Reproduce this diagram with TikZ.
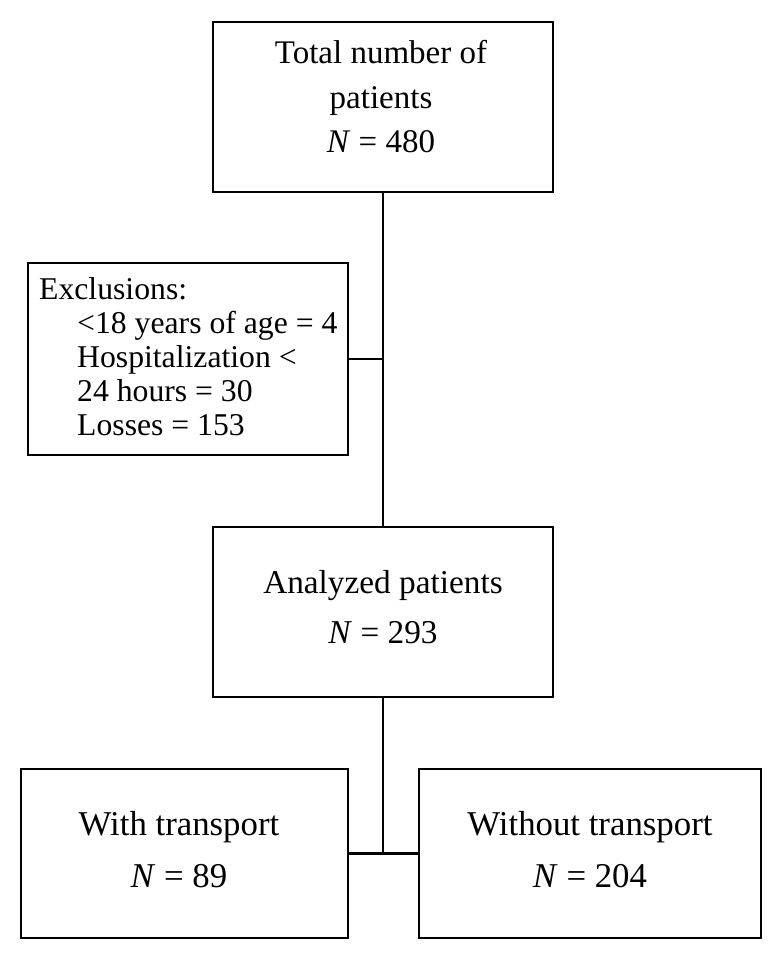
\documentclass[tikz,border=0pt]{standalone}
\usepackage{fontspec}
\setmainfont{Liberation Serif}
\begin{document}
\begin{tikzpicture}[x=1pt,y=-1pt,
  box/.style={draw=black, line width=2.1pt, rectangle, inner sep=0pt},
  txt/.style={align=center, anchor=base},
  conn/.style={draw=black, line width=2.1pt}]
\useasboundingbox[fill=white] (0,0) rectangle (781,960);
% boxes
\node[box, minimum width=340, minimum height=170] (top) at (383,107) {};
\node[box, minimum width=320, minimum height=192] (excl) at (188,359) {};
\node[box, minimum width=340, minimum height=170] (ana) at (383,612) {};
\node[box, minimum width=327, minimum height=169] (left) at (184.5,853.5) {};
\node[box, minimum width=342, minimum height=169] (right) at (590,853.5) {};
% texts (base anchor = baseline of last line)
\node[txt, font=\fontsize{33}{44.5}\selectfont] (toptxt) at (381,153) {Total number of\\patients\\\textit{N} = 480};
\node[anchor=base west, font=\fontsize{31.7}{34}\selectfont, align=left, inner sep=0pt] (excltxt) at (39,435)
  {Exclusions:\\\hspace*{38pt}<18 years of age = 4\\\hspace*{38pt}Hospitalization <\\\hspace*{38pt}24 hours = 30\\\hspace*{38pt}Losses = 153};
\node[txt, font=\fontsize{33.3}{50}\selectfont] (anatxt) at (383,643) {Analyzed patients\\\textit{N} = 293};
\node[txt, font=\fontsize{34.8}{52}\selectfont] (lefttxt) at (179,887) {With transport\\\textit{N} = 89};
\node[txt, font=\fontsize{34.8}{52}\selectfont] (righttxt) at (590,887) {Without transport\\\textit{N} = 204};
% connectors
\draw[conn] (top.south) -- (ana.north);
\draw[conn] (excl.east) -- (excl.east -| top.south);
\draw[conn] (ana.south) -- (ana.south |- left.east);
\draw[conn] (left.east) -- (right.west);
\end{tikzpicture}
\end{document}
